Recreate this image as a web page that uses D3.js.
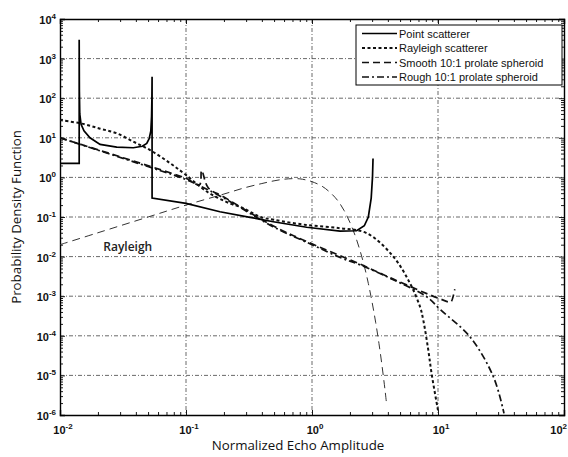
<!DOCTYPE html>
<html>
<head>
<meta charset="utf-8">
<script src="https://cdn.jsdelivr.net/npm/d3@7"></script>
<style>
  body { margin: 0; background: #fff; }
  svg { display: block; }
  .tick-label { font-family: "Liberation Sans", Arial, sans-serif; font-size: 11px; font-weight: bold; fill: #111; }
  .axis-title { font-family: "Open Sans", sans-serif; font-size: 13.3px; fill: #111; }
  .legend-text { font-family: "Liberation Sans", Arial, sans-serif; font-size: 11px; fill: #111; }
</style>
</head>
<body>
<div id="chart"></div>
<script>
// values: [amplitude, pdf]
var pointScatterer = [
  [0.01, 2.27], [0.0142, 2.27], [0.0142, 3000], [0.01425, 150], [0.01435, 40],
  [0.0147, 22], [0.0155, 15], [0.0173, 10], [0.0208, 6.8], [0.0282, 5.8],
  [0.0382, 5.6], [0.045, 6.1], [0.0488, 7.2], [0.051, 9.5], [0.0526, 15],
  [0.0533, 35], [0.0536, 90], [0.0538, 350], [0.0538, 0.30],
  [0.1, 0.22], [0.186, 0.136], [0.322, 0.098], [0.493, 0.076], [0.908, 0.055],
  [1.67, 0.044], [2.26, 0.045], [2.6, 0.06], [2.8, 0.10], [2.95, 0.3],
  [3.02, 1.0], [3.05, 3]
];

var rayleighScatterer = [
  [0.01, 28], [0.0147, 23], [0.0208, 17], [0.0282, 13], [0.0382, 8],
  [0.0518, 4.9], [0.0746, 2.3], [0.1, 1.15], [0.146, 0.44], [0.223, 0.22],
  [0.27, 0.18], [0.322, 0.136], [0.39, 0.10], [0.5, 0.085], [0.9, 0.063],
  [1.67, 0.052], [2.72, 0.039], [4.42, 0.01], [6, 0.0021], [7.2, 5.4e-4],
  [7.64, 2.5e-4], [8.37, 4.4e-5], [8.9, 1.1e-5], [10.05, 1.2e-6]
];

var smoothSpheroid = [
  [0.01, 10], [0.0518, 1.9], [0.1, 0.95], [0.128, 0.65], [0.133, 1.5],
  [0.15, 0.55], [0.2, 0.32], [0.49, 0.06], [1.0, 0.021], [2.4, 0.0065],
  [4.42, 0.0027], [10, 9e-4], [12.6, 7.2e-4], [13.2, 1.0e-3], [13.6, 1.5e-3]
];

var roughSpheroid = [
  [0.01, 10], [0.0518, 1.8], [0.1, 0.88], [0.2, 0.3], [0.49, 0.057],
  [1.0, 0.02], [1.67, 0.0095], [2.4, 0.0062], [4.42, 0.0026], [8.1, 9.8e-4],
  [10.5, 4.5e-4], [17.9, 9.5e-5], [27.5, 9.3e-6], [33.4, 1.1e-6]
];

var rayleighDist = [
  [0.01, 0.02], [0.02, 0.04], [0.05, 0.1], [0.1, 0.2], [0.2, 0.38],
  [0.3, 0.56], [0.4, 0.7], [0.5, 0.82], [0.6, 0.9], [0.7, 0.93],
  [0.8, 0.92], [0.9, 0.86], [1.0, 0.78], [1.2, 0.6], [1.4, 0.41],
  [1.6, 0.26], [1.8, 0.145], [2.0, 0.073], [2.2, 0.034], [2.4, 0.0145],
  [2.6, 0.0058], [2.8, 0.0021], [3.0, 7e-4], [3.2, 2.2e-4], [3.4, 6.4e-5],
  [3.6, 1.7e-5], [3.8, 4.2e-6], [3.9, 2e-6]
];

var xTicks = [1e-2, 1e-1, 1e0, 1e1, 1e2];
var xExp = ["-2", "-1", "0", "1", "2"];
var yTicks = [1e-6, 1e-5, 1e-4, 1e-3, 1e-2, 1e-1, 1e0, 1e1, 1e2, 1e3, 1e4];
var yExp = ["-6", "-5", "-4", "-3", "-2", "-1", "0", "1", "2", "3", "4"];

var legendNames = ["Point scatterer", "Rayleigh scatterer", "Smooth 10:1 prolate spheroid", "Rough 10:1 prolate spheroid"];

var W = 568, H = 457;
var margin = {left: 60, top: 19, right: 4, bottom: 42};
var w = W - margin.left - margin.right, h = H - margin.top - margin.bottom;

var svg = d3.select("#chart").append("svg").attr("width", W).attr("height", H);
var g = svg.append("g").attr("transform", "translate(" + margin.left + "," + margin.top + ")");

var x = d3.scaleLog().domain([1e-2, 1e2]).range([0, w]);
var y = d3.scaleLog().domain([1e-6, 1e4]).range([h, 0]);

// minor tick values
var xMinor = [], yMinor = [];
xTicks.slice(0, -1).forEach(function(t) { for (var k = 2; k < 10; k++) xMinor.push(t * k); });
yTicks.slice(0, -1).forEach(function(t) { for (var k = 2; k < 10; k++) yMinor.push(t * k); });

// grid
var gridStyle = function(sel) {
  sel.attr("stroke", "#444").attr("stroke-width", 0.8).attr("stroke-dasharray", "4,2,1,2").attr("fill", "none");
};
g.append("g").selectAll("line").data(xTicks.slice(1, -1)).enter().append("line")
  .attr("x1", function(d) { return x(d); }).attr("x2", function(d) { return x(d); })
  .attr("y1", 0).attr("y2", h).call(gridStyle);
g.append("g").selectAll("line").data(yTicks.slice(1, -1)).enter().append("line")
  .attr("y1", function(d) { return y(d); }).attr("y2", function(d) { return y(d); })
  .attr("x1", 0).attr("x2", w).call(gridStyle);

// axes with inward ticks on all sides
function ax(axisFn, scale, vals, size) {
  return axisFn(scale).tickValues(vals).tickSize(size).tickFormat("");
}
var axes = [
  [d3.axisBottom, x, "translate(0," + h + ")"],
  [d3.axisTop, x, "translate(0,0)"],
  [d3.axisLeft, y, "translate(0,0)"],
  [d3.axisRight, y, "translate(" + w + ",0)"]
];
axes.forEach(function(a) {
  var isX = a[1] === x;
  var major = isX ? xTicks : yTicks, minor = isX ? xMinor : yMinor;
  g.append("g").attr("transform", a[2]).call(ax(a[0], a[1], major, -5));
  g.append("g").attr("transform", a[2]).call(ax(a[0], a[1], minor, -3))
    .select(".domain").remove();
});
g.selectAll(".domain").attr("stroke", "#000").attr("stroke-width", 1.4);
g.selectAll(".tick line").attr("stroke", "#000").attr("stroke-width", 0.9);

// tick labels with superscripts (last one kept inside the window)
var xl = g.append("g").selectAll("text").data(xTicks).enter().append("text")
  .attr("class", "tick-label")
  .attr("text-anchor", function(d, i) { return i === xTicks.length - 1 ? "end" : "middle"; })
  .attr("x", function(d, i) { return i === xTicks.length - 1 ? W - margin.left - 1 : x(d) + 3; })
  .attr("y", h + 19);
xl.append("tspan").text("10");
xl.append("tspan").attr("dy", -5).attr("font-size", "8px").text(function(d, i) { return xExp[i]; });

var yl = g.append("g").selectAll("text").data(yTicks).enter().append("text")
  .attr("class", "tick-label").attr("text-anchor", "end")
  .attr("x", -4).attr("y", function(d) { return y(d) + 5; });
yl.append("tspan").text("10");
yl.append("tspan").attr("dy", -5).attr("font-size", "8px").text(function(d, i) { return yExp[i]; });

// curves
g.append("clipPath").attr("id", "clip").append("rect").attr("width", w).attr("height", h);
var line = d3.line().x(function(d) { return x(d[0]); }).y(function(d) { return y(d[1]); });
var smooth = d3.line().x(function(d) { return x(d[0]); }).y(function(d) { return y(d[1]); })
  .curve(d3.curveCatmullRom.alpha(0.5));

var series = [
  {data: rayleighDist, gen: smooth, dash: "8,5", width: 1, color: "#333"},
  {data: roughSpheroid, gen: smooth, dash: "7,3,2,3", width: 1.7, color: "#111"},
  {data: smoothSpheroid, gen: smooth, dash: "7,4", width: 1.7, color: "#111"},
  {data: rayleighScatterer, gen: smooth, dash: "3,2.5", width: 2, color: "#111"},
  {data: pointScatterer, gen: line, dash: null, width: 1.7, color: "#000"}
];
var curves = g.append("g").attr("clip-path", "url(#clip)");
series.forEach(function(s) {
  curves.append("path").attr("d", s.gen(s.data)).attr("fill", "none")
    .attr("stroke", s.color).attr("stroke-width", s.width)
    .attr("stroke-dasharray", s.dash);
});

// Rayleigh annotation
g.append("text").attr("x", x(0.0345)).attr("y", y(0.0135))
  .attr("text-anchor", "middle").attr("font-family", "Open Sans, sans-serif")
  .attr("font-size", "12px").attr("font-weight", 600).attr("fill", "#222").text("Rayleigh");

// legend
var legendStyles = [series[4], series[3], series[2], series[1]];
var lg = svg.append("g").attr("transform", "translate(356,25)");
lg.append("rect").attr("width", 206).attr("height", 60).attr("fill", "#fff")
  .attr("stroke", "#000").attr("stroke-width", 1);
legendNames.forEach(function(name, i) {
  var yy = 8.5 + i * 14.5;
  lg.append("line").attr("x1", 6).attr("x2", 41).attr("y1", yy).attr("y2", yy)
    .attr("stroke", legendStyles[i].color).attr("stroke-width", legendStyles[i].width)
    .attr("stroke-dasharray", legendStyles[i].dash);
  lg.append("text").attr("class", "legend-text").attr("x", 43).attr("y", yy + 4).text(name);
});

// axis titles
svg.append("text").attr("class", "axis-title").attr("text-anchor", "middle")
  .attr("x", 298).attr("y", 450).text("Normalized Echo Amplitude");
svg.append("text").attr("class", "axis-title").attr("text-anchor", "middle")
  .attr("transform", "translate(21," + (margin.top + h / 2) + ") rotate(-90)")
  .text("Probability Density Function");
</script>
</body>
</html>
